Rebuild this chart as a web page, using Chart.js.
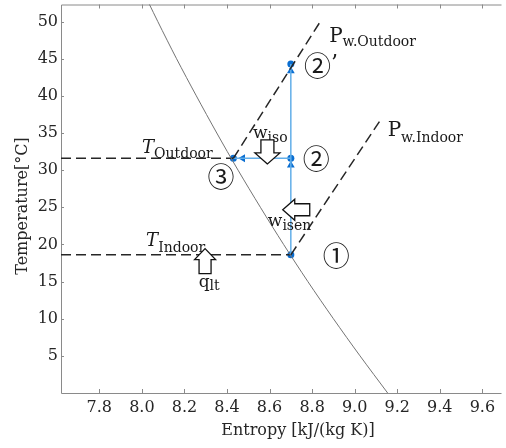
<!DOCTYPE html>
<html>
<head>
<meta charset="utf-8">
<script src="https://cdn.jsdelivr.net/npm/chart.js@4.4.1/dist/chart.umd.min.js"></script>
<style>
  html, body { margin: 0; padding: 0; background: #fff; }
  canvas { display: block; }
</style>
</head>
<body>
<canvas id="ts" width="506" height="448"></canvas>
<script>
// Saturated-vapour line of water on the T-s plane
const satTemp    = [0, 5, 10, 15, 20, 25, 30, 35, 40, 45, 50, 55];
const satEntropy = [9.155, 9.025, 8.900, 8.780, 8.666, 8.557, 8.452, 8.352, 8.256, 8.163, 8.075, 7.990];

// Cycle states: 1 (indoor), 2, 3 (outdoor), 2'
const stateLabels  = ['①', '②', '③', '②'];
const stateEntropy = [8.70, 8.70, 8.43, 8.70];
const stateTemp    = [18.6, 31.6, 31.6, 44.3];

// Reference temperatures
const tIndoor  = 18.6;
const tOutdoor = 31.6;

// Vapour-pressure isobars
const isobarOutdoorEntropy = [8.43, 8.843];
const isobarOutdoorTemp    = [31.6, 50.2];
const isobarIndoorEntropy  = [8.70, 9.127];
const isobarIndoorTemp     = [18.6, 37.0];

// Flow-direction arrowheads along the process lines
const flowEntropy  = [8.70, 8.70, 8.474];
const flowTemp     = [30.65, 43.35, 31.6];
const flowRotation = [0, 0, -90];

// Axis ticks
const xTicks = [7.8, 8.0, 8.2, 8.4, 8.6, 8.8, 9.0, 9.2, 9.4, 9.6];
const yTicks = [5, 10, 15, 20, 25, 30, 35, 40, 45, 50];

const xMin = 7.62, xMax = 9.69, yMin = 0, yMax = 52.3;

const pts = (xs, ys) => xs.map((x, i) => ({ x: x, y: ys[i] }));

const SERIF = "'DejaVu Serif', 'Liberation Serif', serif";
const DASH = [10, 5];
const DARK = '#262626';
const BLUE_LINE = '#62aee9';
const BLUE_DOT = '#0a6ed1';

// Text annotations with subscripts (anchors in data units)
const subLabels = [
  { s: 8.880, T: 47.20, main: 'P', sub: 'w.Outdoor', mainFont: '20px ' + SERIF, subFont: '14px ' + SERIF, subDy: 4 },
  { s: 9.155, T: 34.60, main: 'P', sub: 'w.Indoor',  mainFont: '20px ' + SERIF, subFont: '14px ' + SERIF, subDy: 6 },
  { s: 8.001, T: 32.30, main: 'T', sub: 'Outdoor',   mainFont: 'italic 18px ' + SERIF, subFont: '14px ' + SERIF, subDy: 5 },
  { s: 8.020, T: 19.85, main: 'T', sub: 'Indoor',    mainFont: 'italic 18px ' + SERIF, subFont: '14px ' + SERIF, subDy: 6 },
  { s: 8.522, T: 34.33, main: 'w', sub: 'iso',       mainFont: '17px ' + SERIF, subFont: '14px ' + SERIF, subDy: 4 },
  { s: 8.592, T: 22.53, main: 'w', sub: 'isen',      mainFont: '17px ' + SERIF, subFont: '14px ' + SERIF, subDy: 4 },
  { s: 8.267, T: 14.21, main: 'q', sub: 'lt',        mainFont: '17px ' + SERIF, subFont: '14px ' + SERIF, subDy: 3 }
];

// Circled state numbers, placed beside each state
const stateTags = [
  { s: 8.913, T: 18.51, text: stateLabels[0] },
  { s: 8.820, T: 31.51, text: stateLabels[1] },
  { s: 8.372, T: 29.10, text: stateLabels[2] },
  { s: 8.825, T: 43.99, text: stateLabels[3], prime: true }
];

// Hollow block arrows for heat / work (tip in data units, sizes in px)
const blockArrows = [
  { s: 8.590, T: 30.84, dir: 'down', len: 24, head: 11, headW: 25, shaftW: 13 },
  { s: 8.662, T: 24.67, dir: 'left', len: 27, head: 12, headW: 21, shaftW: 12 },
  { s: 8.297, T: 19.44, dir: 'up',   len: 25, head: 11, headW: 21, shaftW: 12 }
];

const framePlugin = {
  id: 'frame',
  beforeDatasetsDraw(chart) {
    const { ctx, chartArea: a, scales: { x, y } } = chart;
    ctx.save();
    ctx.strokeStyle = '#8a8a8a';
    ctx.lineWidth = 1;
    ctx.beginPath();
    ctx.moveTo(a.right, a.top + 0.5);
    ctx.lineTo(a.left + 0.5, a.top + 0.5);
    ctx.lineTo(a.left + 0.5, a.bottom + 0.5);
    ctx.lineTo(a.right, a.bottom + 0.5);
    x.ticks.forEach(t => {
      const px = Math.round(x.getPixelForValue(t.value)) + 0.5;
      ctx.moveTo(px, a.bottom); ctx.lineTo(px, a.bottom - 4);
      ctx.moveTo(px, a.top);    ctx.lineTo(px, a.top + 4);
    });
    y.ticks.forEach(t => {
      const py = Math.round(y.getPixelForValue(t.value)) + 0.5;
      ctx.moveTo(a.left, py); ctx.lineTo(a.left + 3, py);
    });
    ctx.stroke();
    ctx.restore();
  }
};

const annotationPlugin = {
  id: 'annotations',
  afterDatasetsDraw(chart) {
    const { ctx, scales: { x, y } } = chart;
    ctx.save();

    // axis titles
    ctx.fillStyle = '#262626';
    ctx.font = '16px ' + SERIF;
    ctx.textAlign = 'center';
    ctx.textBaseline = 'middle';
    ctx.fillText('Entropy [kJ/(kg K)]', 298, 431);
    ctx.save();
    ctx.translate(22.5, 206);
    ctx.rotate(-Math.PI / 2);
    ctx.fillText('Temperature[°C]', 0, 0);
    ctx.restore();

    // subscripted labels
    ctx.fillStyle = '#1a1a1a';
    ctx.textAlign = 'left';
    ctx.textBaseline = 'alphabetic';
    subLabels.forEach(l => {
      const px = x.getPixelForValue(l.s), py = y.getPixelForValue(l.T);
      ctx.font = l.mainFont;
      ctx.fillText(l.main, px, py);
      const w = ctx.measureText(l.main).width;
      ctx.font = l.subFont;
      ctx.fillText(l.sub, px + w, py + l.subDy);
    });

    // circled state numbers
    ctx.textAlign = 'center';
    ctx.textBaseline = 'middle';
    stateTags.forEach(t => {
      const px = x.getPixelForValue(t.s), py = y.getPixelForValue(t.T);
      ctx.font = "27px 'Noto Sans CJK JP', 'DejaVu Sans', sans-serif";
      ctx.fillText(t.text, px, py);
      if (t.prime) {
        ctx.font = '22px ' + SERIF;
        ctx.textBaseline = 'alphabetic';
        ctx.fillText('’', px + 17, py + 4);
        ctx.textBaseline = 'middle';
      }
    });

    // hollow block arrows
    ctx.strokeStyle = '#111';
    ctx.lineWidth = 1.3;
    ctx.fillStyle = '#fff';
    blockArrows.forEach(b => {
      const tx = x.getPixelForValue(b.s), ty = y.getPixelForValue(b.T);
      const hw = b.headW / 2, sw = b.shaftW / 2;
      // outline in a local frame where the arrow points toward -u
      const local = [
        [0, 0], [b.head, -hw], [b.head, -sw], [b.len, -sw],
        [b.len, sw], [b.head, sw], [b.head, hw]
      ];
      const map = {
        down: (u, v) => [tx + v, ty - u],
        up:   (u, v) => [tx + v, ty + u],
        left: (u, v) => [tx + u, ty + v]
      }[b.dir];
      ctx.beginPath();
      local.forEach((p, i) => {
        const q = map(p[0], p[1]);
        if (i === 0) ctx.moveTo(q[0], q[1]); else ctx.lineTo(q[0], q[1]);
      });
      ctx.closePath();
      ctx.fill();
      ctx.stroke();
    });

    ctx.restore();
  }
};

const noPad = s => { s.paddingLeft = 0; s.paddingRight = 0; s.paddingTop = 0; s.paddingBottom = 0; };

new Chart(document.getElementById('ts'), {
  type: 'scatter',
  data: {
    datasets: [
      { label: 'saturation', data: pts(satEntropy, satTemp), showLine: true,
        borderColor: '#747474', borderWidth: 1, pointRadius: 0, tension: 0.3 },
      { label: 'T indoor', data: pts([xMin, stateEntropy[0]], [tIndoor, tIndoor]), showLine: true,
        borderColor: DARK, borderWidth: 1.5, borderDash: DASH, pointRadius: 0 },
      { label: 'T outdoor', data: pts([xMin, stateEntropy[2]], [tOutdoor, tOutdoor]), showLine: true,
        borderColor: DARK, borderWidth: 1.5, borderDash: DASH, pointRadius: 0 },
      { label: 'Pw outdoor', data: pts(isobarOutdoorEntropy, isobarOutdoorTemp), showLine: true,
        borderColor: DARK, borderWidth: 1.5, borderDash: DASH, pointRadius: 0 },
      { label: 'Pw indoor', data: pts(isobarIndoorEntropy, isobarIndoorTemp), showLine: true,
        borderColor: DARK, borderWidth: 1.5, borderDash: DASH, pointRadius: 0 },
      { label: 'compression', data: pts([stateEntropy[0], stateEntropy[3]], [stateTemp[0], stateTemp[3]]), showLine: true,
        borderColor: BLUE_LINE, borderWidth: 1.5, pointRadius: 0 },
      { label: 'cooling', data: pts([stateEntropy[1], stateEntropy[2]], [stateTemp[1], stateTemp[2]]), showLine: true,
        borderColor: BLUE_LINE, borderWidth: 1.5, pointRadius: 0 },
      { label: 'flow', data: pts(flowEntropy, flowTemp), showLine: false,
        pointStyle: 'triangle', pointRadius: 4.5, rotation: flowRotation,
        backgroundColor: BLUE_DOT, borderColor: BLUE_DOT, borderWidth: 0 },
      { label: 'states', data: pts(stateEntropy, stateTemp), showLine: false,
        pointStyle: 'circle', pointRadius: 3.5,
        backgroundColor: BLUE_DOT, borderColor: BLUE_DOT, borderWidth: 0 }
    ]
  },
  options: {
    responsive: false,
    devicePixelRatio: 1,
    animation: false,
    layout: { padding: { top: 3, right: 0, left: 0, bottom: 0 } },
    plugins: { legend: { display: false }, tooltip: { enabled: false } },
    scales: {
      x: {
        type: 'linear', min: xMin, max: xMax,
        grid: { display: false, drawTicks: false },
        border: { display: false },
        afterBuildTicks: s => { s.ticks = xTicks.map(v => ({ value: v })); },
        afterFit: s => { s.height = 55; noPad(s); },
        ticks: { font: { family: SERIF, size: 16 }, color: '#262626', padding: 5,
                 callback: v => Number(v).toFixed(1), maxRotation: 0, autoSkip: false }
      },
      y: {
        type: 'linear', min: yMin, max: yMax,
        grid: { display: false, drawTicks: false },
        border: { display: false },
        afterBuildTicks: s => { s.ticks = yTicks.map(v => ({ value: v })); },
        afterFit: s => { s.width = 61; noPad(s); },
        ticks: { font: { family: SERIF, size: 16 }, color: '#262626', padding: 3, autoSkip: false }
      }
    }
  },
  plugins: [framePlugin, annotationPlugin]
});
</script>
</body>
</html>
